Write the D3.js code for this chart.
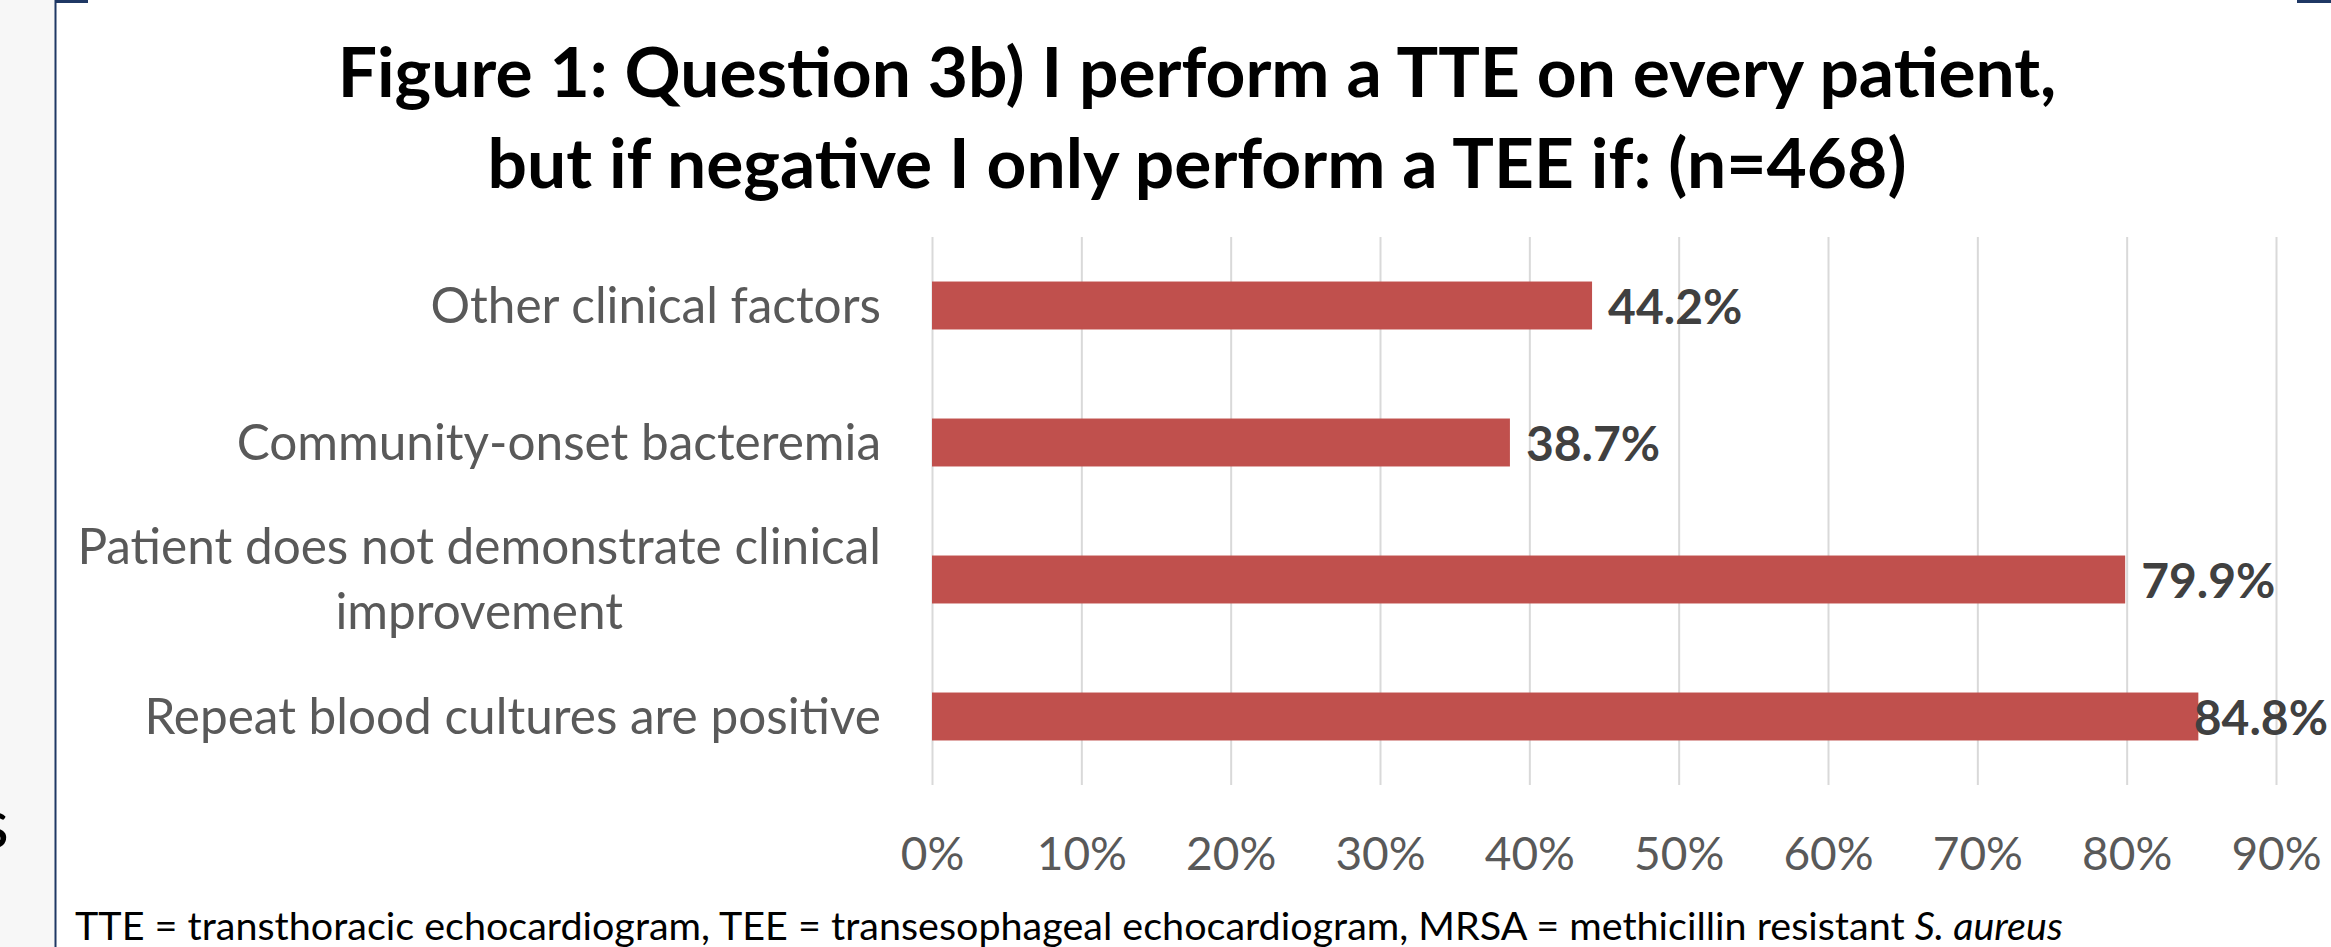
<!DOCTYPE html>
<html>
<head>
<meta charset="utf-8">
<script src="https://cdn.jsdelivr.net/npm/d3@7"></script>
<style>
  body { margin: 0; background: #fff; }
  svg { display: block; font-family: Lato, "Open Sans", sans-serif; }
</style>
</head>
<body>
<svg></svg>
<script>
const w = 2331
const h = 947

// data
const categories = [
  'Repeat blood cultures are positive',
  'Patient does not demonstrate clinical\nimprovement',
  'Community-onset bacteremia',
  'Other clinical factors'
];
const values = [84.8, 79.9, 38.7, 44.2];
const xTicks = [0, 10, 20, 30, 40, 50, 60, 70, 80, 90];
const titleLines = [
  'Figure 1: Question 3b) I perform a TTE on every patient,',
  'but if negative I only perform a TEE if: (n=468)'
];

const data = categories.map((c, i) => ({cat: c, val: values[i]}));

const svg = d3.select('svg')
  .attr('width', w)
  .attr('height', h);

// slide background bits on the left
svg.append('rect')
  .attr('x', 0).attr('y', 0)
  .attr('width', 55).attr('height', h)
  .attr('fill', '#f7f7f7');
svg.append('line')
  .attr('x1', 55.5).attr('x2', 55.5)
  .attr('y1', 0).attr('y2', h)
  .attr('stroke', '#1f3864').attr('stroke-width', 2);
svg.append('line')
  .attr('x1', 55).attr('x2', 88)
  .attr('y1', 1.5).attr('y2', 1.5)
  .attr('stroke', '#1f3864').attr('stroke-width', 3);
svg.append('line')
  .attr('x1', 2297).attr('x2', w)
  .attr('y1', 1.5).attr('y2', 1.5)
  .attr('stroke', '#1f3864').attr('stroke-width', 3);
svg.append('text')
  .attr('x', 9).attr('y', 848)
  .attr('text-anchor', 'end')
  .attr('font-size', 69)
  .attr('fill', '#000')
  .text('s');

// title
svg.append('g').selectAll('text').data(titleLines)
  .enter().append('text')
    .attr('x', 1197)
    .attr('y', (d, i) => 97 + i * 91)
    .attr('text-anchor', 'middle')
    .attr('font-size', 69.5)
    .attr('font-weight', 'bold')
    .attr('fill', '#000')
    .text(d => d);

const margin = {top: 237, bottom: 785, left: 932, right: 2276};

const xScale = d3.scaleLinear()
  .domain([0, 90])
  .range([margin.left, margin.right]);

const yScale = d3.scaleBand()
  .domain(categories.slice().reverse())
  .range([margin.top, margin.bottom])
  .paddingInner(0.65)
  .paddingOuter(0.325);

// gridlines + tick labels
const xAxis = d3.axisBottom(xScale)
  .tickValues(xTicks)
  .tickFormat(d => d + '%')
  .tickSize(-(margin.bottom - margin.top));

const xAxisG = svg.append('g')
  .attr('transform', `translate(0, ${margin.bottom})`)
  .call(xAxis);
xAxisG.select('.domain').remove();
xAxisG.selectAll('line')
  .attr('stroke', '#d9d9d9')
  .attr('stroke-width', 2);
xAxisG.selectAll('text')
  .attr('y', 85)
  .attr('dy', 0)
  .attr('font-size', 46)
  .attr('font-family', 'Lato, sans-serif')
  .attr('fill', '#595959');

// bars
svg.append('g').selectAll('rect').data(data)
  .enter().append('rect')
    .attr('x', xScale(0))
    .attr('y', d => yScale(d.cat))
    .attr('width', d => xScale(d.val) - xScale(0))
    .attr('height', yScale.bandwidth())
    .attr('fill', '#c0504d');

// category labels (right aligned block, lines centred inside it)
const labelRight = 881;
const lineGap = 65;
const catG = svg.append('g');
data.forEach(d => {
  const lines = d.cat.split('\n');
  const cy = yScale(d.cat) + yScale.bandwidth() / 2;
  const t = catG.append('text')
    .attr('font-size', 49.5)
    .attr('fill', '#595959')
    .attr('text-anchor', 'middle');
  lines.forEach((ln, i) => {
    t.append('tspan')
      .attr('y', cy + 17 + (i - (lines.length - 1) / 2) * lineGap)
      .text(ln);
  });
  let maxW = 0;
  t.selectAll('tspan').each(function() {
    maxW = Math.max(maxW, this.getComputedTextLength());
  });
  t.selectAll('tspan').attr('x', labelRight - maxW / 2);
});

// value labels
svg.append('g').selectAll('text').data(data)
  .enter().append('text')
    .attr('y', d => yScale(d.cat) + yScale.bandwidth() / 2 + 18)
    .attr('font-size', 48)
    .attr('font-weight', 'bold')
    .attr('fill', '#404040')
    .text(d => d.val.toFixed(1) + '%')
    .attr('x', function(d) {
      const tw = this.getComputedTextLength();
      return Math.min(xScale(d.val) + 16, w - 3 - tw);
    });

// footnote
const foot = svg.append('text')
  .attr('x', 75)
  .attr('y', 940)
  .attr('font-size', 39.5)
  .attr('fill', '#000');
foot.append('tspan')
  .text('TTE = transthoracic echocardiogram, TEE = transesophageal echocardiogram, MRSA = methicillin resistant ');
foot.append('tspan')
  .attr('font-style', 'italic')
  .text('S. aureus');
</script>
</body>
</html>
